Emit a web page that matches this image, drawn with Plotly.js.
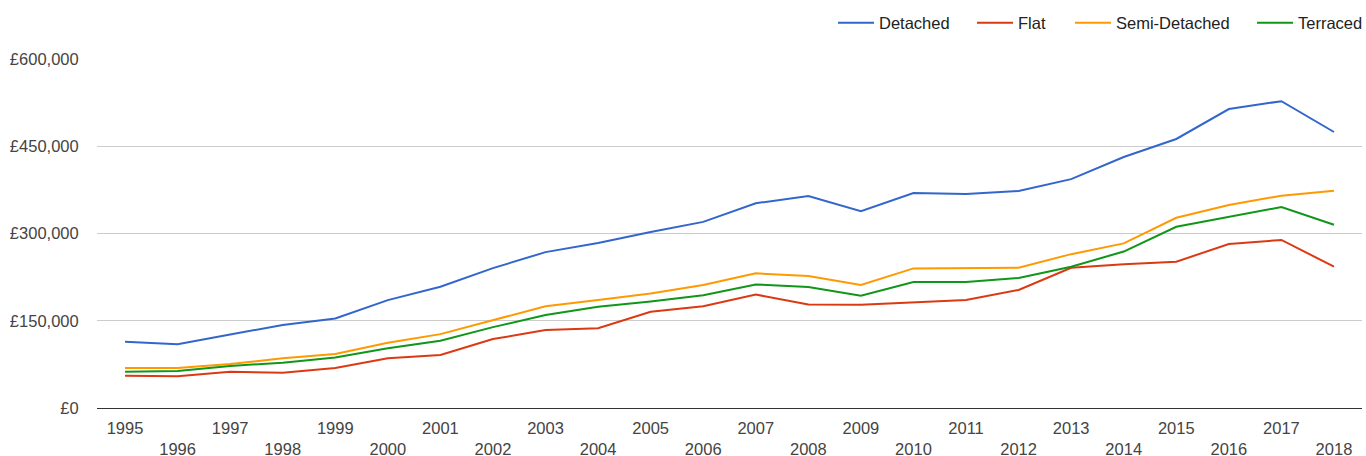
<!DOCTYPE html>
<html>
<head>
<meta charset="utf-8">
<script src="https://cdn.plot.ly/plotly-3.0.1.min.js"></script>
<style>html,body{margin:0;padding:0;background:#fff;}#chart{width:1366px;height:456px;}</style>
</head>
<body>
<div id="chart"></div>
<script>
var years = [1995,1996,1997,1998,1999,2000,2001,2002,2003,2004,2005,2006,2007,2008,2009,2010,2011,2012,2013,2014,2015,2016,2017,2018];
var detached = [114000,109500,126500,142500,154000,185500,208500,240500,268000,283500,302500,320000,352000,364500,338500,369500,368000,373000,393500,431500,462500,514000,527500,474500];
var flat = [55600,54400,62400,60700,68800,85400,91000,118500,134000,137000,165500,175000,195000,178000,177500,182000,185500,203000,241000,247000,251500,282000,289000,243000];
var semiDetached = [68800,68800,75600,85400,92800,112000,127000,151000,175000,185500,197000,211500,231500,227000,211500,240000,241000,241000,264500,283000,327000,349000,365000,373500];
var terraced = [62400,63600,72200,77900,87000,102600,115700,139000,160000,174000,183000,194000,212500,208000,193000,216500,216500,223500,243000,269000,311500,329000,345500,315000];
var seriesNames = ["Detached","Flat","Semi-Detached","Terraced"];
var seriesColors = ["#3366cc","#dc3912","#ff9900","#109618"];
var yTicks = [0,150000,300000,450000,600000];
var yTickText = ["£0","£150,000","£300,000","£450,000","£600,000"];
var xTickText = years.map(function(y,i){ return i % 2 === 0 ? String(y) : "<br>" + y; });

var font = {family: 'Arial, "Liberation Sans", sans-serif', size: 16.5, color: '#444'};
var legendKeys = ['legend','legend2','legend3','legend4'];
var legendLeft = [833, 972, 1070, 1252];

var data = [detached, flat, semiDetached, terraced];
var traces = data.map(function(vals, i){
  return {x: years, y: vals, type: 'scatter', mode: 'lines', name: seriesNames[i],
          legend: legendKeys[i], line: {color: seriesColors[i], width: 2}};
});

var layout = {
  width: 1366, height: 456,
  margin: {l: 97, r: 4, t: 59, b: 48},
  paper_bgcolor: '#fff', plot_bgcolor: '#fff',
  font: font,
  showlegend: true,
  xaxis: {range: [1994.467, 2018.533], tickvals: years, ticktext: xTickText, showgrid: false,
          zeroline: false, showline: false, ticks: 'outside', ticklen: 5, tickcolor: 'rgba(0,0,0,0)',
          tickangle: 0, tickfont: font, fixedrange: true},
  yaxis: {range: [0, 600000], tickvals: yTicks, ticktext: yTickText, showgrid: true, gridcolor: '#cccccc',
          zeroline: true, zerolinecolor: '#333333', zerolinewidth: 1, showline: false,
          ticks: 'outside', ticklen: 14, tickcolor: 'rgba(0,0,0,0)', tickfont: font, fixedrange: true}
};
legendKeys.forEach(function(k, i){
  layout[k] = {orientation: 'h', xref: 'container', yref: 'container',
               x: legendLeft[i] / 1366, xanchor: 'left', y: 0.988, yanchor: 'top',
               bgcolor: 'rgba(0,0,0,0)', borderwidth: 0,
               font: {family: font.family, size: 16.5, color: '#222'}, itemwidth: 36};
});
Plotly.newPlot('chart', traces, layout, {displayModeBar: false, staticPlot: true});
</script>
</body>
</html>
